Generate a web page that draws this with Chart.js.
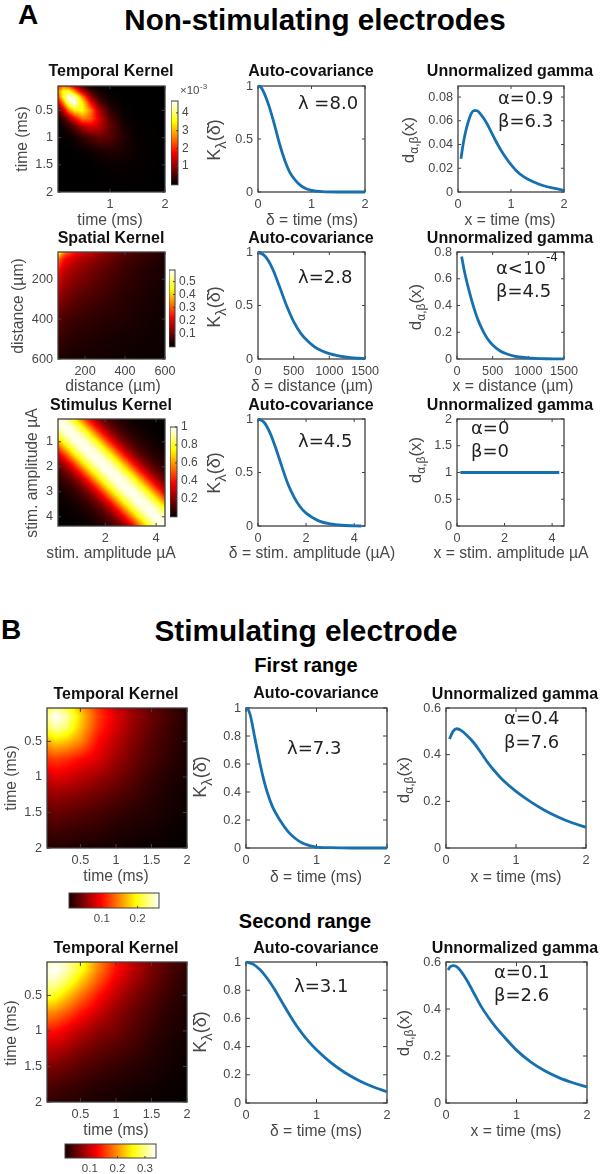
<!DOCTYPE html>
<html><head><meta charset="utf-8">
<script src="https://cdn.jsdelivr.net/npm/chart.js@4/dist/chart.umd.min.js"></script>
<style>
html,body{margin:0;padding:0;background:#fff}
#page{position:relative;width:601px;height:1174px;overflow:hidden;background:#fff}
canvas{position:absolute}
.h{position:absolute;font-family:"Liberation Sans",Arial,sans-serif;font-weight:bold;color:#000;white-space:nowrap;transform:translate(-50%,-50%);line-height:1}
</style></head><body><div id="page">
<div class="h" style="left:28px;top:15px;font-size:28px">A</div>
<div class="h" style="left:315px;top:20px;font-size:29.6px">Non-stimulating electrodes</div>
<div class="h" style="left:11px;top:630px;font-size:28px">B</div>
<div class="h" style="left:306px;top:631px;font-size:29.8px">Stimulating electrode</div>
<div class="h" style="left:306px;top:665px;font-size:20px">First range</div>
<div class="h" style="left:305px;top:921px;font-size:20px">Second range</div>
</div>
<script>
// ---------- line data ----------
const autoA1X=[0,.05,.1,.2,.3,.4,.5,.6,.7,.8,.9,1,1.1,1.2,1.5,2];
const autoA1Y=[1,.99,.95,.82,.65,.46,.3,.18,.11,.06,.03,.015,.008,.003,0,0];
const gammaA1X=[.056,.1,.15,.2,.25,.3,.35,.4,.5,.6,.7,.8,.9,1,1.1,1.25,1.43,1.6,1.8,2];
const gammaA1Y=[.028,.041,.052,.06,.066,.0685,.0685,.067,.061,.053,.044,.036,.029,.023,.018,.0125,.0085,.0055,.0032,.0015];
const autoA2X=[0,100,200,300,400,500,600,700,800,900,1000,1100,1200,1300,1400,1500];
const autoA2Y=[1,.96,.85,.68,.5,.35,.24,.165,.11,.075,.05,.033,.021,.013,.008,.004];
const gammaA2X=[65,100,150,200,250,300,350,400,450,500,600,700,800,900,1000,1100,1250,1500];
const gammaA2Y=[.767,.665,.55,.45,.36,.285,.225,.175,.135,.105,.062,.037,.022,.013,.008,.005,.002,.0003];
const autoA3X=[0,.25,.5,.75,1,1.25,1.5,1.75,2,2.5,3,3.5,4.3];
const autoA3Y=[1,.97,.87,.72,.55,.39,.27,.18,.12,.05,.02,.007,0];
const gammaA3X=[.14,1,2,3,4.3];
const gammaA3Y=[1,1,1,1,1];
const autoB1X=[0,.03,.06,.09,.12,.16,.2,.25,.3,.38,.48,.6,.7,.8,.9,1,1.2,1.5,2];
const autoB1Y=[1,.99,.95,.88,.8,.7,.6,.49,.4,.29,.2,.115,.068,.035,.017,.007,.002,0,0];
const gammaB1X=[.05,.1,.157,.22,.3,.4,.5,.6,.7,.8,1,1.2,1.4,1.6,1.8,2];
const gammaB1Y=[.467,.5,.511,.503,.482,.45,.408,.365,.328,.295,.243,.2,.163,.133,.108,.0886];
const autoB2X=[0,.1,.2,.3,.4,.5,.6,.7,.8,.9,1,1.2,1.4,1.6,1.8,2];
const autoB2Y=[1,.985,.945,.885,.81,.725,.64,.56,.49,.43,.378,.288,.216,.16,.115,.08];
const gammaB2X=[.03,.06,.1,.15,.2,.3,.4,.5,.6,.7,.8,1,1.2,1.4,1.6,1.8,2];
const gammaB2Y=[.566,.58,.585,.58,.565,.52,.465,.41,.365,.325,.29,.225,.175,.137,.108,.086,.068];

// ---------- heatmap data ----------
const heatA1Nodes=[.05,.15,.25,.35,.5,.65,.8,1,1.25,1.5,2];
const heatA1=[ // x 10^-3
[2,2.6,2.2,1.4,.5,.12,.03,0,0,0,0],
[2.6,3.6,3.7,2.8,1.3,.4,.12,.02,0,0,0],
[2.2,3.7,4.6,4.4,2.6,1,.3,.06,0,0,0],
[1.4,2.8,4.4,4.7,3.4,1.7,.6,.12,.01,0,0],
[.5,1.3,2.6,3.4,3.6,2.6,1.2,.32,.04,0,0],
[.12,.4,1,1.7,2.6,2.4,1.5,.55,.09,.01,0],
[.03,.12,.3,.6,1.2,1.5,1.3,.7,.17,.03,0],
[0,.02,.06,.12,.32,.55,.7,.6,.23,.05,0],
[0,0,0,.01,.04,.09,.17,.23,.17,.06,0],
[0,0,0,0,0,.01,.03,.05,.06,.04,0],
[0,0,0,0,0,0,0,0,0,0,0]];
const heatA2Nodes=[64,80,100,150,200,300,400,500,600];
const heatA2=[
[.58,.42,.32,.25,.2,.13,.08,.05,.03],
[.42,.33,.27,.2,.17,.115,.07,.045,.027],
[.32,.27,.22,.17,.145,.1,.062,.04,.025],
[.25,.2,.17,.14,.115,.08,.05,.033,.02],
[.2,.17,.145,.115,.1,.068,.045,.03,.018],
[.13,.115,.1,.08,.068,.05,.034,.023,.015],
[.08,.07,.062,.05,.045,.034,.028,.018,.012],
[.05,.045,.04,.033,.03,.023,.018,.014,.01],
[.03,.027,.025,.02,.018,.015,.012,.01,.008]];
const heatA3Nodes=[.1,.4,.7,1,1.3,1.6,1.9,2.2,2.5,2.8,3.1,3.4,3.7,4,4.3];
const heatA3=[
[1,.95,.8,.61,.41,.25,.15,.09,.06,.03,.02,.01,.005,.002,0],
[.95,1,.95,.8,.61,.41,.25,.15,.09,.06,.03,.02,.01,.005,.002],
[.8,.95,1,.95,.8,.61,.41,.25,.15,.09,.06,.03,.02,.01,.005],
[.61,.8,.95,1,.95,.8,.61,.41,.25,.15,.09,.06,.03,.02,.01],
[.41,.61,.8,.95,1,.95,.8,.61,.41,.25,.15,.09,.06,.03,.02],
[.25,.41,.61,.8,.95,1,.95,.8,.61,.41,.25,.15,.09,.06,.03],
[.15,.25,.41,.61,.8,.95,1,.95,.8,.61,.41,.25,.15,.09,.06],
[.09,.15,.25,.41,.61,.8,.95,1,.95,.8,.61,.41,.25,.15,.09],
[.06,.09,.15,.25,.41,.61,.8,.95,1,.95,.8,.61,.41,.25,.15],
[.03,.06,.09,.15,.25,.41,.61,.8,.95,1,.95,.8,.61,.41,.25],
[.02,.03,.06,.09,.15,.25,.41,.61,.8,.95,1,.95,.8,.61,.41],
[.01,.02,.03,.06,.09,.15,.25,.41,.61,.8,.95,1,.95,.8,.61],
[.005,.01,.02,.03,.06,.09,.15,.25,.41,.61,.8,.95,1,.95,.8],
[.002,.005,.01,.02,.03,.06,.09,.15,.25,.41,.61,.8,.95,1,.95],
[0,.002,.005,.01,.02,.03,.06,.09,.15,.25,.41,.61,.8,.95,1]];
const heatBNodes=[.03,.15,.3,.5,.75,1,1.25,1.5,1.75,2];
const heatB1=[
[.215,.234,.215,.165,.115,.08,.055,.036,.023,.013],
[.234,.26,.24,.18,.12,.086,.058,.04,.026,.013],
[.215,.24,.225,.172,.115,.082,.056,.037,.023,.013],
[.165,.18,.172,.15,.1,.072,.05,.032,.021,.01],
[.115,.12,.115,.1,.085,.06,.042,.028,.018,.009],
[.08,.086,.082,.072,.06,.047,.033,.021,.013,.008],
[.055,.058,.056,.05,.042,.033,.025,.016,.01,.005],
[.036,.04,.037,.032,.028,.021,.016,.013,.008,.004],
[.023,.026,.023,.021,.018,.013,.01,.008,.005,.003],
[.013,.013,.013,.01,.009,.008,.005,.004,.003,.001]];
const heatB2=[
[.313,.33,.316,.272,.197,.136,.095,.065,.041,.027],
[.33,.34,.316,.265,.19,.133,.092,.061,.037,.024],
[.316,.316,.289,.231,.17,.116,.082,.054,.034,.02],
[.272,.265,.231,.187,.136,.095,.065,.044,.027,.017],
[.197,.19,.17,.136,.102,.071,.051,.034,.02,.014],
[.136,.133,.116,.095,.071,.058,.041,.027,.017,.01],
[.095,.092,.082,.065,.051,.041,.031,.02,.012,.007],
[.065,.061,.054,.044,.034,.027,.02,.015,.01,.005],
[.041,.037,.034,.027,.02,.017,.012,.01,.006,.003],
[.027,.024,.02,.017,.014,.01,.007,.005,.003,.002]];

// ---------- tick labels ----------
const ticks012=['0','1','2'];
const ticks12=['1','2'];
const ticksHalf=['0.5','1','1.5','2'];
const ticksDist=['200','400','600'];
const ticksAmp24=['2','4'];
const ticksAmp14=['1','2','3','4'];
const ticksAmp024=['0','2','4'];
const ticksUm=['0','500','1000','1500'];
const ticksK3=['0','0.5','1'];
const ticksK6=['0','0.2','0.4','0.6','0.8','1'];
const ticksGA1=['0','0.02','0.04','0.06','0.08'];
const ticksGA2=['0','0.2','0.4','0.6','0.8'];
const ticksGA3=['0','0.5','1','1.5','2'];
const ticksGB=['0','0.2','0.4','0.6'];

// ---------- rendering helpers ----------
const page=document.getElementById('page');
const SANS='"Liberation Sans",Arial,sans-serif', NOTE='"DejaVu Sans",sans-serif';
const GREY='#484848', BLUE='#1670b0';
const cl=v=>Math.max(0,Math.min(1,v));
const hot=t=>{t=cl(t);return [255*cl(t/.375),255*cl((t-.375)/.375),255*cl((t-.75)/.25)];};
function mkCanvas(x,y,w,h){const c=document.createElement('canvas');c.width=w;c.height=h;c.style.left=x+'px';c.style.top=y+'px';c.style.width=w+'px';c.style.height=h+'px';page.appendChild(c);return c;}
function seg(n,v){let i=0;while(i<n.length-2&&v>n[i+1])i++;return [i,cl((v-n[i])/(n[i+1]-n[i]))];}
function sample(nodes,g,x,y){const [i,a]=seg(nodes,x),[j,b]=seg(nodes,y);
  return (g[j][i]*(1-a)+g[j][i+1]*a)*(1-b)+(g[j+1][i]*(1-a)+g[j+1][i+1]*a)*b;}
function numTicks(labels){return labels.map(Number);}
function drawRich(ctx,parts,cx,cy,rot){
  ctx.save();ctx.translate(cx,cy);ctx.rotate(rot||0);ctx.textBaseline='alphabetic';ctx.textAlign='left';
  let tot=0;parts.forEach(p=>{ctx.font=p.f;tot+=ctx.measureText(p.t).width;});
  let x=-tot/2;parts.forEach(p=>{ctx.font=p.f;ctx.fillStyle=p.c||GREY;ctx.fillText(p.t,x,(p.dy||0)+6);x+=ctx.measureText(p.t).width;});
  ctx.restore();
}
const panelPlugin={id:'panelPlugin',
  beforeDatasetsDraw(chart){
    const o=chart.config.options.panel,ca=chart.chartArea,ctx=chart.ctx,xs=chart.scales.x,ys=chart.scales.y;
    if(o.heat){
      const w=Math.round(ca.right-ca.left),h=Math.round(ca.bottom-ca.top),img=ctx.createImageData(w,h);
      for(let py=0;py<h;py++){const vy=ys.getValueForPixel(ca.top+py+.5);
        for(let px=0;px<w;px++){const vx=xs.getValueForPixel(ca.left+px+.5);
          const c=hot(sample(o.heat.nodes,o.heat.grid,vx,vy)/o.heat.vmax),k=(py*w+px)*4;
          img.data[k]=c[0];img.data[k+1]=c[1];img.data[k+2]=c[2];img.data[k+3]=255;}}
      ctx.putImageData(img,Math.round(ca.left),Math.round(ca.top));
    }
    if(o.bar){
      const s=o.bar.horizontal?xs:ys;
      if(o.bar.horizontal){for(let px=ca.left;px<ca.right;px++){const c=hot(s.getValueForPixel(px+.5)/o.bar.vmax);ctx.fillStyle=`rgb(${c[0]},${c[1]},${c[2]})`;ctx.fillRect(px,ca.top,1,ca.bottom-ca.top);}}
      else{for(let py=ca.top;py<ca.bottom;py++){const c=hot(s.getValueForPixel(py+.5)/o.bar.vmax);ctx.fillStyle=`rgb(${c[0]},${c[1]},${c[2]})`;ctx.fillRect(ca.left,py,ca.right-ca.left,1);}}
    }
    ctx.save();ctx.strokeStyle='#404040';ctx.lineWidth=o.bar?1:1.3;
    ctx.strokeRect(ca.left,ca.top,ca.right-ca.left,ca.bottom-ca.top);
    const len=o.tick||3;
    ctx.lineWidth=1;ctx.beginPath();
    if(xs&&xs.options.display!==false)xs.ticks.forEach(t=>{const p=xs.getPixelForValue(t.value);ctx.moveTo(p,ca.bottom);ctx.lineTo(p,ca.bottom-len);if(!o.bar){ctx.moveTo(p,ca.top);ctx.lineTo(p,ca.top+len);}});
    if(ys&&ys.options.display!==false)ys.ticks.forEach(t=>{const p=ys.getPixelForValue(t.value);ctx.moveTo(ca.right,p);ctx.lineTo(ca.right-len,p);if(!o.bar){ctx.moveTo(ca.left,p);ctx.lineTo(ca.left+len,p);}});
    ctx.stroke();ctx.restore();
  },
  afterDraw(chart){
    const o=chart.config.options.panel,ctx=chart.ctx;
    (o.texts||[]).forEach(t=>{
      if(t.parts){drawRich(ctx,t.parts,t.x-o.ox,t.y-o.oy,t.rot);return;}
      ctx.save();ctx.translate(t.x-o.ox,t.y-o.oy);ctx.rotate(t.rot||0);ctx.font=t.f;ctx.fillStyle=t.c||GREY;ctx.textAlign=t.a||'center';ctx.textBaseline='middle';ctx.fillText(t.s,0,0);ctx.restore();
    });
  }
};
Chart.register(panelPlugin);
const L=70,T=34,R=40,B=45;
function axis(pos,min,max,labels,opts){
  opts=opts||{};const vals=numTicks(labels);
  return {type:'linear',position:pos,min,max,reverse:!!opts.reverse,display:opts.display!==false,
    grid:{display:false,drawTicks:false},border:{display:false},title:{display:false},
    afterBuildTicks:s=>{s.ticks=vals.map(v=>({value:v}));},
    afterFit:s=>{if(opts.size!==undefined){if(pos==='left'||pos==='right')s.width=opts.size;else s.height=opts.size;}},
    ticks:{autoSkip:false,maxRotation:0,minRotation:0,padding:opts.pad||5,color:GREY,font:{family:SANS,size:opts.fs||12.7},callback:(v,i)=>labels[i]}};
}
function panel(box,p){
  const [x0,y0,x1,y1]=box,ox=x0-L,oy=y0-T,w=x1-x0+L+R,h=y1-y0+T+B;
  const c=mkCanvas(ox,oy,w,h);
  const datasets=p.heat?[{data:p.heat.cells,pointRadius:0,showLine:false}]
    :[{data:p.xs.map((x,i)=>({x,y:p.ys[i]})),showLine:true,borderColor:BLUE,borderWidth:2.8,pointRadius:0,cubicInterpolationMode:'monotone',clip:false}];
  new Chart(c,{type:'scatter',data:{datasets},options:{responsive:false,animation:false,devicePixelRatio:1,
    layout:{padding:{top:T,right:R,left:0,bottom:0}},
    plugins:{legend:{display:false},tooltip:{enabled:false},title:{display:false}},
    scales:{x:axis('bottom',p.xr[0],p.xr[1],p.xt,{size:B}),y:axis('left',p.yr[0],p.yr[1],p.yt,{size:L,reverse:p.heat})},
    panel:{ox,oy,heat:p.heat,tick:p.tick||3,texts:p.texts}}});
}
function heatSpec(nodes,grid,vmax){
  const cells=[];nodes.forEach((y,j)=>nodes.forEach((x,i)=>cells.push({x,y,v:grid[j][i]})));
  return {nodes,grid,vmax,cells};
}
function vbar(box,min,max,labels,vmax,extra){
  const [x0,y0,x1,y1]=box,Rb=36,Tb=22,Bb=10,ox=x0,oy=y0-Tb,w=x1-x0+Rb,h=y1-y0+Tb+Bb;
  const c=mkCanvas(ox,oy,w,h);
  new Chart(c,{type:'scatter',data:{datasets:[{data:[]}]},options:{responsive:false,animation:false,devicePixelRatio:1,
    layout:{padding:{top:Tb,bottom:Bb,left:0,right:0}},plugins:{legend:{display:false},tooltip:{enabled:false}},
    scales:{x:{type:'linear',display:false,min:0,max:1},y:axis('right',min,max,labels,{size:Rb,pad:4,fs:12})},
    panel:{ox,oy,bar:{vmax},tick:2,texts:extra||[]}}});
}
function hbar(box,min,max,labels,vmax){
  const [x0,y0,x1,y1]=box,Rb=14,Lb=14,Bb=20,ox=x0-Lb,oy=y0-2,w=x1-x0+Lb+Rb,h=y1-y0+2+Bb;
  const c=mkCanvas(ox,oy,w,h);
  new Chart(c,{type:'scatter',data:{datasets:[{data:[]}]},options:{responsive:false,animation:false,devicePixelRatio:1,
    layout:{padding:{top:2,left:Lb,right:Rb,bottom:0}},plugins:{legend:{display:false},tooltip:{enabled:false}},
    scales:{y:{type:'linear',display:false,min:0,max:1},x:axis('bottom',min,max,labels,{size:Bb,pad:4,fs:11.5})},
    panel:{ox,oy,bar:{vmax,horizontal:true},tick:2,texts:[]}}});
}
const UP=-Math.PI/2;
const tF='bold 16px '+SANS, lF='15.7px '+SANS, nF='18px '+NOTE;
const K=(x,y)=>({x,y,rot:UP,parts:[{t:'K',f:'18px '+SANS},{t:'λ',f:'15px '+SANS,dy:6},{t:'(δ\u0304)',f:'18px '+SANS}]});
const D=(x,y)=>({x,y,rot:UP,parts:[{t:'d',f:'17px '+SANS},{t:'α,β',f:'12px '+SANS,dy:4},{t:'(x)',f:'17px '+SANS}]});
const tt=(s,x,y)=>({s,x,y,f:tF,c:'#111'});
const xl=(s,x,y)=>({s,x,y,f:lF});
const yl=(s,x,y)=>({s,x,y,f:lF,rot:UP});
const note=(s,x,y)=>({s,x,y,f:nF,a:'left',c:'#222'});

// ----- Panel A, row 1 -----
panel([58,86,165,192],{heat:heatSpec(heatA1Nodes,heatA1,4.7),xr:[.05,2],yr:[.05,2],xt:ticks12,yt:ticksHalf,
  texts:[tt('Temporal Kernel',111,72),xl('time (ms)',110,221),yl('time (ms)',23,139)]});
vbar([171,101,178,186],-.05,4.67,['1','2','3','4'],4.67,[{s:'×10',x:180,y:91,f:'11.5px '+SANS,a:'left'},{s:'-3',x:200,y:87,f:'8px '+SANS,a:'left'}]);
panel([258,86,365,192],{xs:autoA1X,ys:autoA1Y,xr:[0,2],yr:[0,1],xt:ticks012,yt:ticksK3,
  texts:[tt('Auto-covariance',311,72),xl('δ = time (ms)',312,221),K(214,140),note('λ =8.0',298,104)]});
panel([458,86,564,192],{xs:gammaA1X,ys:gammaA1Y,xr:[0,2],yr:[0,.0893],xt:ticks012,yt:ticksGA1,
  texts:[tt('Unnormalized gamma',510,72),xl('x = time (ms)',510,221),D(408,140),note('α=0.9',498,99),note('β=6.3',498,122)]});
// ----- Panel A, row 2 -----
panel([58,252,165,359],{heat:heatSpec(heatA2Nodes,heatA2,.59),xr:[64,600],yr:[64,600],xt:ticksDist,yt:ticksDist,
  texts:[tt('Spatial Kernel',111,239),xl('distance (µm)',113,387),yl('distance (µm)',19,306)]});
vbar([169,270,175,348],-.005,.59,['0.1','0.2','0.3','0.4','0.5'],.59);
panel([258,252,365,359],{xs:autoA2X,ys:autoA2Y,xr:[0,1500],yr:[0,1],xt:ticksUm,yt:ticksK3,
  texts:[tt('Auto-covariance',311,239),xl('δ = distance (µm)',312,387),K(214,307),note('λ=2.8',298,278)]});
panel([457,252,564,359],{xs:gammaA2X,ys:gammaA2Y,xr:[0,1500],yr:[0,.8],xt:ticksUm,yt:ticksGA2,
  texts:[tt('Unnormalized gamma',510,239),xl('x = distance (µm)',513,387),D(415,307),note('α<10',496,269),{s:'-4',x:546,y:258,f:'12px '+NOTE,a:'left',c:'#222'},note('β=4.5',496,292)]});
// ----- Panel A, row 3 -----
panel([58,419,165,526],{heat:heatSpec(heatA3Nodes,heatA3,1),xr:[.14,4.35],yr:[.09,4.37],xt:ticksAmp24,yt:ticksAmp14,
  texts:[tt('Stimulus Kernel',111,406),xl('stim. amplitude µA',111,554),yl('stim. amplitude µA',33,473)]});
vbar([170,427,177,518],0,1,['0.2','0.4','0.6','0.8','1'],1);
panel([258,419,365,526],{xs:autoA3X,ys:autoA3Y,xr:[0,4.45],yr:[0,1],xt:ticksAmp024,yt:ticksK3,
  texts:[tt('Auto-covariance',311,406),xl('δ = stim. amplitude (µA)',312,554),K(214,473),note('λ=4.5',298,442)]});
panel([457,419,564,526],{xs:gammaA3X,ys:gammaA3Y,xr:[0,4.5],yr:[0,2],xt:ticksAmp024,yt:ticksGA3,
  texts:[tt('Unnormalized gamma',510,406),xl('x = stim. amplitude µA',511,554),D(415,460),note('α=0',471,429),note('β=0',471,452)]});
// ----- Panel B, first range -----
panel([47,708,187,848],{heat:heatSpec(heatBNodes,heatB1,.26),xr:[.03,2],yr:[.03,2],xt:ticksHalf,yt:ticksHalf,tick:4,
  texts:[tt('Temporal Kernel',116,695),xl('time (ms)',116,877),yl('time (ms)',12,778)]});
hbar([69,893,159,908],.008,.26,['0.1','0.2'],.26);
panel([246,708,387,848],{xs:autoB1X,ys:autoB1Y,xr:[0,2],yr:[0,1],xt:ticks012,yt:ticksK6,tick:4,
  texts:[tt('Auto-covariance',316,694),xl('δ = time (ms)',316,878),K(200,777),note('λ=7.3',287,749)]});
panel([446,708,586,848],{xs:gammaB1X,ys:gammaB1Y,xr:[0,2],yr:[0,.6],xt:ticks012,yt:ticksGB,tick:4,
  texts:[tt('Unnormalized gamma',515,695),xl('x = time (ms)',516,878),D(403,780),note('α=0.4',504,719),note('β=7.6',504,743)]});
// ----- Panel B, second range -----
panel([47,962,187,1102],{heat:heatSpec(heatBNodes,heatB2,.34),xr:[.03,2],yr:[.03,2],xt:ticksHalf,yt:ticksHalf,tick:4,
  texts:[tt('Temporal Kernel',116,949),xl('time (ms)',116,1131),yl('time (ms)',12,1033)]});
hbar([65,1144,156,1158],.01,.34,['0.1','0.2','0.3'],.34);
panel([246,962,387,1103],{xs:autoB2X,ys:autoB2Y,xr:[0,2],yr:[0,1],xt:ticks012,yt:ticksK6,tick:4,
  texts:[tt('Auto-covariance',316,949),xl('δ = time (ms)',316,1132),K(200,1032),note('λ=3.1',294,987)]});
panel([446,962,587,1103],{xs:gammaB2X,ys:gammaB2Y,xr:[0,2],yr:[0,.6],xt:ticks012,yt:ticksGB,tick:4,
  texts:[tt('Unnormalized gamma',515,949),xl('x = time (ms)',516,1132),D(403,1033),note('α=0.1',494,973),note('β=2.6',494,996)]});
</script></body></html>
